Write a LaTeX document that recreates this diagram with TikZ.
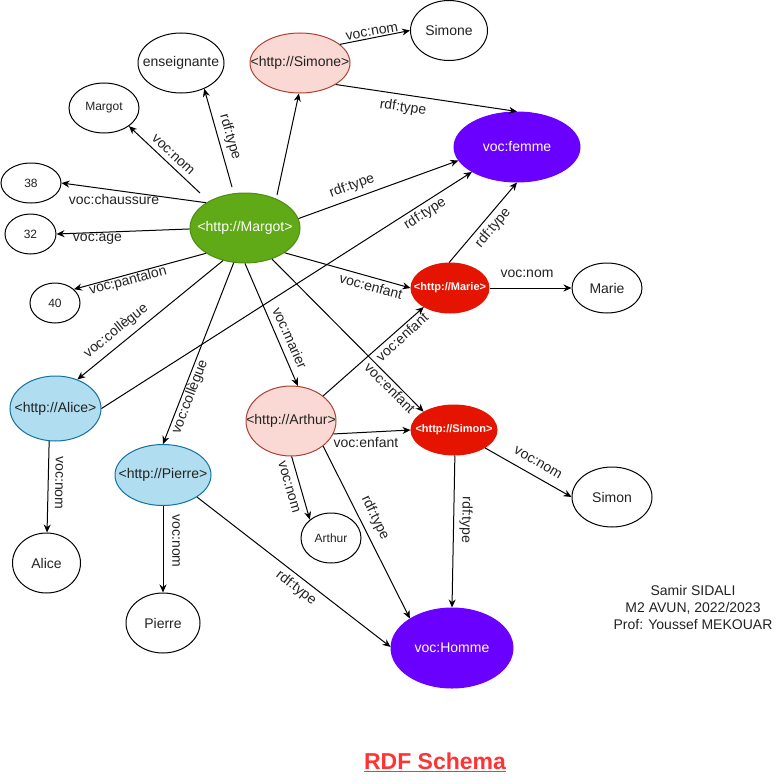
\documentclass[tikz,border=0pt]{standalone}
\usepackage{fontspec}
\setmainfont{Liberation Sans}
\usetikzlibrary{shapes.geometric,arrows.meta}
\newcommand\zb[1]{\makebox[0pt]{#1}}
\definecolor{gFill}{HTML}{60A917}
\definecolor{gDraw}{HTML}{4E8C12}
\definecolor{pFill}{HTML}{FAD9D5}
\definecolor{pDraw}{HTML}{AE4132}
\definecolor{bFill}{HTML}{B1DDF0}
\definecolor{bDraw}{HTML}{10739E}
\definecolor{rFill}{HTML}{E51400}
\definecolor{vFill}{HTML}{6A00FF}
\definecolor{titleRed}{HTML}{FF3333}
\definecolor{txt}{HTML}{222222}
\begin{document}
\begin{tikzpicture}[x=1pt,y=-1pt,
  f14/.style={font=\fontsize{14}{16}\selectfont},
  f12/.style={font=\fontsize{12}{14}\selectfont},
  fb/.style={font=\fontsize{11}{13}\selectfont\bfseries},
  ell/.style={ellipse, draw=black, line width=1pt, inner sep=0pt, fill=white, text=txt},
  green/.style={fill=gFill, draw=gDraw, text=white},
  pink/.style={fill=pFill, draw=pDraw},
  blue/.style={fill=bFill, draw=bDraw},
  redn/.style={fill=rFill, draw=rFill, text=white},
  viol/.style={fill=vFill, draw=vFill, text=white},
  arr/.style={draw=black, line width=1pt, -{Stealth[length=8pt,width=7pt]}},
  lbl/.style={inner sep=0pt, text=txt, font=\fontsize{14}{16}\selectfont}]
\useasboundingbox (0,0) rectangle (781,784);

% nodes
\node[ell, green, f14, minimum width=110pt, minimum height=70pt] (M) at (245,228) {\zb{<http://Margot>}};
\node[ell, f14, minimum width=86pt, minimum height=60pt] (ens) at (181,63) {\zb{enseignante}};
\node[ell, pink, f14, minimum width=100pt, minimum height=60pt] (simU) at (300,63) {\zb{<http://Simone>}};
\node[ell, f12, minimum width=70pt, minimum height=50pt] (margL) at (104,108) {\zb{Margot}};
\node[ell, f12, minimum width=60pt, minimum height=40pt] (l38) at (31,183) {\zb{38}};
\node[ell, f12, minimum width=51pt, minimum height=40pt] (l32) at (30.5,234) {\zb{32}};
\node[ell, f12, minimum width=50pt, minimum height=40pt] (l40) at (55,303) {\zb{40}};
\node[ell, f14, minimum width=77pt, minimum height=60pt] (simL) at (449,30.5) {\zb{Simone}};
\node[ell, viol, f14, minimum width=126pt, minimum height=70pt] (femme) at (517,147) {\zb{voc:femme}};
\node[ell, redn, fb, minimum width=78pt, minimum height=50pt] (marU) at (450,288) {\zb{<http://Marie>}};
\node[ell, f14, minimum width=70pt, minimum height=50pt] (marL) at (607,288) {\zb{Marie}};
\node[ell, blue, f14, minimum width=91pt, minimum height=65pt] (aliU) at (55.5,408.5) {\zb{<http://Alice>}};
\node[ell, blue, f14, minimum width=96pt, minimum height=61pt] (pieU) at (163,475) {\zb{<http://Pierre>}};
\node[ell, pink, f14, minimum width=90pt, minimum height=70pt] (artU) at (291,421) {\zb{<http://Arthur>}};
\node[ell, f14, minimum width=68pt, minimum height=60pt] (aliL) at (46.5,563) {\zb{Alice}};
\node[ell, f14, minimum width=74pt, minimum height=60pt] (pieL) at (163,623) {\zb{Pierre}};
\node[ell, f12, minimum width=60pt, minimum height=50pt] (artL) at (331,538) {\zb{Arthur}};
\node[ell, redn, fb, minimum width=86pt, minimum height=50pt] (simonU) at (454,430) {\zb{<http://Simon>}};
\node[ell, f14, minimum width=80pt, minimum height=60pt] (simonL) at (612,497) {\zb{Simon}};
\node[ell, viol, f14, minimum width=122pt, minimum height=80pt] (homme) at (452,648) {\zb{voc:Homme}};

% free ends
\coordinate (mA) at (200,193);
\coordinate (mB) at (232,187);
\coordinate (mC) at (277,195);

% connectors
\draw[arr] (mA) -- (margL.-36);
\draw[arr] (mB) -- (ens.-48);
\draw[arr] (mC) -- (simU.-92);
\draw[arr] (M.147) -- (l38.0);
\draw[arr] (M.181) -- (l32.0);
\draw[arr] (M.213) -- (l40.36);
\draw[arr] (M.236) -- (aliU.53);
\draw[arr] (M.252) -- (pieU.90);
\draw[arr] (M.270) -- (artU.79);
\draw[arr] (M.-49) -- (simonU.149);
\draw[arr] (M.-32) -- (marU.180);
\draw[arr] (M.10) -- (femme.193);
\draw[arr] (simU.25) -- (simL.180);
\draw[arr] (simU.-31) -- (femme.90);
\draw[arr] (aliU.0) -- (femme.209);
\draw[arr] (aliU.259) -- (aliL.89);
\draw[arr] (marU.92) -- (femme.270);
\draw[arr] (marU.0) -- (marL.180);
\draw[arr] (artU.38) -- (marU.216);
\draw[arr] (artU.-17) -- (simonU.180);
\draw[arr] (artU.-89) -- (artL.139);
\draw[arr] (artU.-38) -- (homme.145);
\draw[arr] (pieU.270) -- (pieL.90);
\draw[arr] (pieU.-33) -- (homme.179);
\draw[arr] (simonU.-88) -- (homme.90);
\draw[arr] (simonU.-30) -- (simonL.180);

% connector labels
\node[lbl, rotate=-43] (t1) at (173,155) {voc:nom};
\node[lbl, rotate=-74] (t2) at (230,137) {rdf:type};
\node[lbl] (t3) at (114,199) {voc:chaussure};
\node[lbl] (t4) at (97.5,239) {voc:age};
\node[lbl, rotate=15] (t5) at (128,281) {voc:pantalon};
\node[lbl, rotate=39] (t6) at (116,331) {voc:collègue};
\node[lbl, rotate=69] (t7) at (190,397) {voc:collègue};
\node[lbl, rotate=-66] (t8) at (290,338) {voc:marier};
\node[lbl, rotate=-91] (t9) at (59,483) {voc:nom};
\node[lbl, rotate=-90] (t10) at (176,541) {voc:nom};
\node[lbl, rotate=-38] (t11) at (296,588) {rdf:type};
\node[lbl, rotate=-74] (t12) at (289,487) {voc:nom};
\node[lbl, rotate=-64] (t13) at (375,518) {rdf:type};
\node[lbl] (t14) at (366,442) {voc:enfant};
\node[lbl, rotate=42] (t15) at (402,337) {voc:enfant};
\node[lbl, rotate=-45] (t16) at (390,388) {voc:enfant};
\node[lbl, rotate=-15] (t17) at (371,286) {voc:enfant};
\node[lbl, rotate=-91] (t18) at (466,520) {rdf:type};
\node[lbl, rotate=-30] (t19) at (538,463) {voc:nom};
\node[lbl] (t20) at (527,274) {voc:nom};
\node[lbl, rotate=10] (t21) at (372,32) {voc:nom};
\node[lbl, rotate=-8.5] (t22) at (403,108) {rdf:type};
\node[lbl, rotate=20] (t23) at (352,186) {rdf:type};
\node[lbl, rotate=32.5] (t24) at (425,214) {rdf:type};
\node[lbl, rotate=50] (t25) at (493,228) {rdf:type};

% author text
\node[inner sep=0pt, text=txt, align=center, font=\fontsize{14}{17}\selectfont] (author) at (693,607) {Samir SIDALI\\M2 AVUN, 2022/2023\\Prof: Youssef MEKOUAR};

% title
\node[inner sep=0pt, text=titleRed, font=\fontsize{23}{26}\selectfont\bfseries] (title) at (435,762) {\underline{RDF Schema}};
\end{tikzpicture}
\end{document}
